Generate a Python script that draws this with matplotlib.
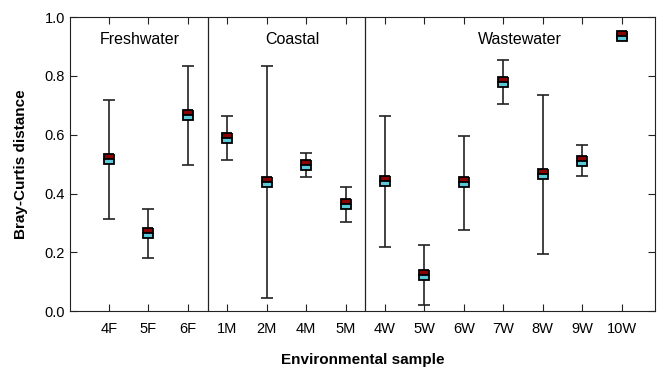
import matplotlib.pyplot as plt
import numpy as np

plt.rcParams['font.family'] = ['Liberation Sans', 'DejaVu Sans']

samples = ['4F', '5F', '6F', '1M', '2M', '4M', '5M',
           '4W', '5W', '6W', '7W', '8W', '9W', '10W']
mean = [0.517, 0.266, 0.667, 0.588, 0.439, 0.497, 0.364,
        0.442, 0.122, 0.438, 0.779, 0.466, 0.511, 0.935]
upper = [0.718, 0.347, 0.833, 0.663, 0.833, 0.537, 0.422,
         0.664, 0.224, 0.597, 0.854, 0.734, 0.564, 0.941]
lower = [0.313, 0.180, 0.497, 0.514, 0.044, 0.456, 0.303,
         0.218, 0.020, 0.277, 0.704, 0.194, 0.461, 0.930]
groups = ['Freshwater', 'Coastal', 'Wastewater']
group_x = [1.78, 5.65, 11.43]
separators = [3.5, 7.5]

x = np.arange(1, len(samples) + 1)
mean = np.array(mean)
yerr = [mean - np.array(lower), np.array(upper) - mean]

fig = plt.figure(figsize=(6.57, 3.73), dpi=100)
ax = fig.add_axes([0.106, 0.166, 0.891, 0.788])

# barres d'erreur
ax.errorbar(x, mean, yerr=yerr, fmt='none', ecolor='#222222',
            elinewidth=1.2, capsize=4, capthick=1.2, zorder=2)
# marqueurs : moitie rouge / moitie cyan
ax.plot(x, mean, linestyle='none', marker='s', markersize=7.5,
        markeredgecolor='black', markeredgewidth=1.3,
        markerfacecolor='#8b0000', markerfacecoloralt='#5cc8d8',
        fillstyle='top', zorder=3)

for s in separators:
    ax.axvline(s, color='#222222', linewidth=0.9)
for g, gx in zip(groups, group_x):
    ax.text(gx, 0.925, g, ha='center', va='center', fontsize=11.5)

ax.set_xlim(0, 14.85)
ax.set_ylim(0, 1.0)
ax.set_xticks(x)
ax.set_xticklabels(samples)
ax.set_yticks(np.arange(0, 1.01, 0.2))
ax.set_yticklabels(['%.1f' % v for v in np.arange(0, 1.01, 0.2)])
ax.tick_params(direction='in', top=True, right=True, length=5,
               labelsize=10.5, color='#222222')
ax.tick_params(axis='x', pad=8)
for sp in ax.spines.values():
    sp.set_color('#222222')

ax.set_xlabel('Environmental sample', fontsize=11, fontweight='bold', labelpad=12)
ax.set_ylabel('Bray-Curtis distance', fontsize=11, fontweight='bold', labelpad=12)

fig.savefig('out.png', dpi=100)
